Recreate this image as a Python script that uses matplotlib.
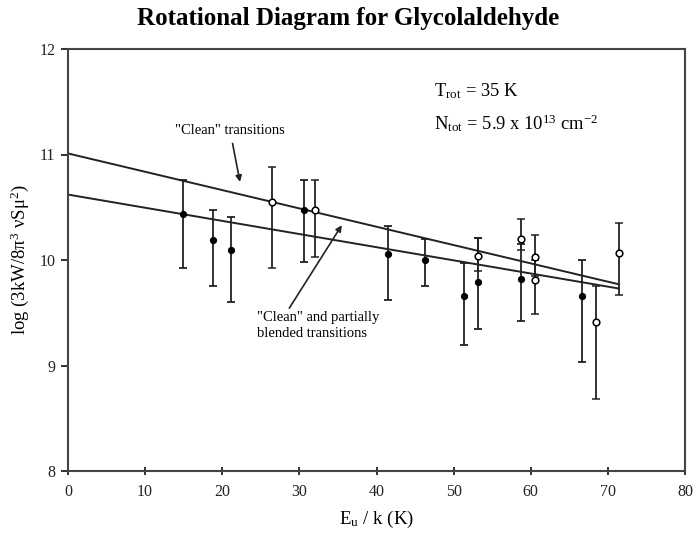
import matplotlib.pyplot as plt

plt.rcParams["font.family"] = ["Liberation Serif", "DejaVu Serif"]
plt.rcParams["mathtext.fontset"] = "stix"

# "clean" + partially blended transitions (filled)
filled_x = [14.9, 18.85, 21.1, 30.56, 41.5, 46.3, 51.36, 53.1, 58.75, 66.6]
filled_y = [10.44, 10.19, 10.095, 10.47, 10.06, 10.0, 9.66, 9.79, 9.82, 9.66]
filled_lo = [9.92, 9.75, 9.60, 9.98, 9.62, 9.756, 9.19, 9.343, 9.425, 9.03]
filled_hi = [10.76, 10.47, 10.41, 10.76, 10.325, 10.196, 9.97, 10.206, 10.15, 10.0]

# "clean" transitions (open)
open_x = [26.46, 32.0, 53.1, 58.75, 60.6, 60.6, 68.4, 71.4]
open_y = [10.547, 10.47, 10.04, 10.20, 10.03, 9.81, 9.415, 10.07]
open_lo = [9.92, 10.03, 9.9, 10.095, 9.85, 9.485, 8.68, 9.67]
open_hi = [10.88, 10.76, 10.206, 10.39, 10.24, 10.0, 9.756, 10.35]

# fitted lines (endpoints)
fit_x = [0, 71.4]
clean_fit = [11.01, 9.77]
all_fit = [10.62, 9.73]

x_ticks = [0, 10, 20, 30, 40, 50, 60, 70, 80]
y_ticks = [8, 9, 10, 11, 12]

fig = plt.figure(figsize=(6.96, 5.42), dpi=100)
ax = fig.add_axes([68 / 696, 1 - 471 / 542, 617 / 696, 422 / 542])

lc = "#222222"
ax.plot(fit_x, clean_fit, color=lc, lw=1.4, zorder=2)
ax.plot(fit_x, all_fit, color=lc, lw=1.4, zorder=2)

ferr = [[y - lo for y, lo in zip(filled_y, filled_lo)],
        [hi - y for y, hi in zip(filled_y, filled_hi)]]
oerr = [[y - lo for y, lo in zip(open_y, open_lo)],
        [hi - y for y, hi in zip(open_y, open_hi)]]

ax.errorbar(filled_x, filled_y, yerr=ferr, fmt="o", ms=4.2, color=lc,
            mfc="black", mec="black", ecolor=lc, elinewidth=1.3,
            capsize=3, capthick=1.3, zorder=3)
ax.errorbar(open_x, open_y, yerr=oerr, fmt="o", ms=4.8, color=lc,
            mfc="white", mec="black", mew=1.1, ecolor=lc, elinewidth=1.3,
            capsize=3, capthick=1.3, zorder=4)

ax.set_xlim(0, 80)
ax.set_ylim(8, 12)
ax.set_xticks(x_ticks)
ax.set_yticks(y_ticks)
ax.tick_params(axis="x", direction="inout", length=6, width=1.3,
               labelsize=11.5, colors=lc, pad=6)
ax.tick_params(axis="y", direction="out", length=5, width=1.3,
               labelsize=11.5, colors=lc, pad=4)
for sp in ax.spines.values():
    sp.set_linewidth(1.5)
    sp.set_color("#444444")

ax.set_xlabel(r"E$_\mathregular{u}$ / k (K)", fontsize=13.5, labelpad=7)
ax.set_ylabel(r"log (3kW/8$\mathregular{\pi^3}$ $\mathregular{\nu}$S$\mathregular{\mu^2}$)",
              fontsize=13.5, labelpad=6)

fig.text(348 / 696, 1 - 19 / 542, "Rotational Diagram for Glycolaldehyde",
         ha="center", va="center", fontsize=18, fontweight="bold")

ax.text(47.5, 11.6, r"T$_\mathregular{rot}$ = 35 K", fontsize=13.3,
        ha="left", va="center")
ax.text(47.5, 11.3,
        r"N$_\mathregular{tot}$ = 5.9 x 10$^\mathregular{13}$ cm$^\mathregular{-2}$",
        fontsize=13.3, ha="left", va="center")

ax.annotate('"Clean" transitions', xy=(22.3, 10.74), xytext=(21.0, 11.17),
            fontsize=10.5, ha="center", va="bottom",
            arrowprops=dict(arrowstyle="-|>", color=lc, lw=1.2,
                            mutation_scale=9, shrinkA=3, shrinkB=0))
ax.annotate('"Clean" and partially\nblended transitions', xy=(35.5, 10.33),
            xytext=(24.5, 9.38), fontsize=10.5, ha="left", va="center",
            linespacing=1.3,
            arrowprops=dict(arrowstyle="-|>", color=lc, lw=1.2,
                            mutation_scale=9, shrinkA=0, shrinkB=0,
                            relpos=(0.25, 1.0)))

fig.savefig("out.png", dpi=100)
